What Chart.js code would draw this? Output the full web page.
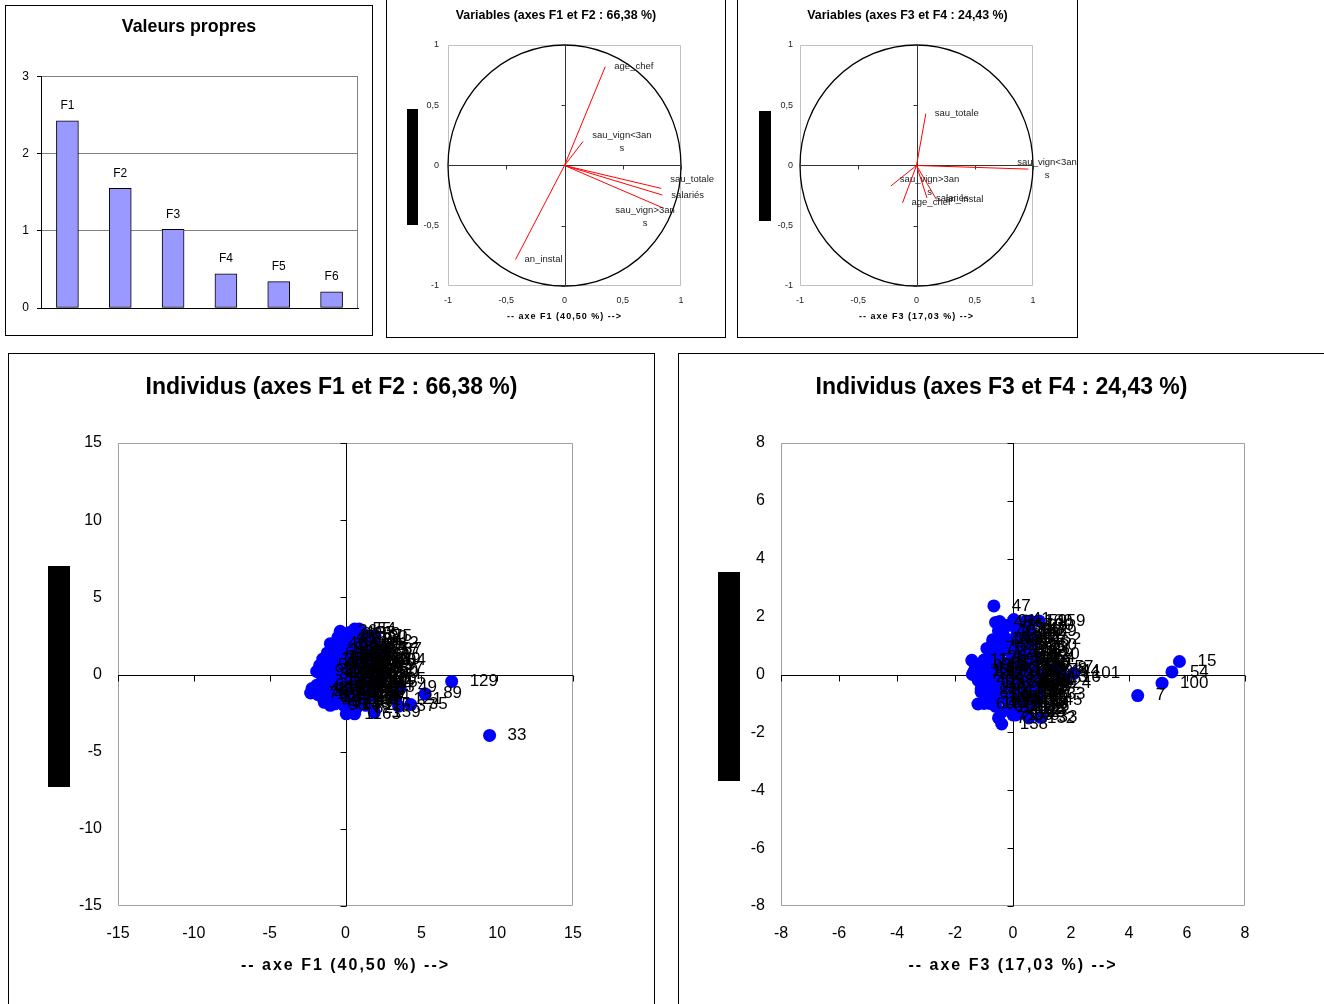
<!DOCTYPE html>
<html>
<head>
<meta charset="utf-8">
<title>ACP</title>
<script src="https://cdn.jsdelivr.net/npm/chart.js@4.4.0/dist/chart.umd.min.js"></script>
<style>
  html, body { margin: 0; padding: 0; background: #fff; overflow: hidden; }
  body { width: 1324px; height: 1004px; position: relative; }
  .panel { position: absolute; border: 1px solid #000; background: #fff; }
  .panel canvas { display: block; }
</style>
</head>
<body>
<div class="panel" style="left:5px;top:5px;width:366px;height:329px;"><canvas id="eigen" width="366" height="329"></canvas></div>
<div class="panel" style="left:386px;top:-1px;width:338px;height:337px;"><canvas id="var12" width="338" height="337"></canvas></div>
<div class="panel" style="left:737px;top:-1px;width:339px;height:337px;"><canvas id="var34" width="339" height="337"></canvas></div>
<div class="panel" style="left:8px;top:353px;width:645px;height:650px;"><canvas id="ind12" width="645" height="650"></canvas></div>
<div class="panel" style="left:678px;top:353px;width:645px;height:650px;"><canvas id="ind34" width="645" height="650"></canvas></div>
<script>
const FONT = "'Liberation Sans', Arial, sans-serif";
Chart.defaults.font.family = FONT;
Chart.defaults.color = '#000';

// valeurs propres
const axesLabels = ['F1', 'F2', 'F3', 'F4', 'F5', 'F6'];
const eigenValues = [2.43, 1.553, 1.022, 0.444, 0.342, 0.209];

// cercle des correlations
const varNames = ['age_chef', 'sau_vign<3ans', 'sau_totale', 'salariés', 'sau_vign>3ans', 'an_instal'];
const varF1 = [0.35, 0.16, 0.83, 0.84, 0.84, -0.42];
const varF2 = [0.82, 0.20, -0.19, -0.245, -0.35, -0.78];
const varF3 = [-0.12, 0.96, 0.08, 0.09, -0.22, 0.17];
const varF4 = [-0.31, -0.03, 0.43, -0.27, -0.17, -0.28];

// individus
const ids = ['1','2','3','4','5','6','7','8','9','10','11','12','13','14','15','16','17','18','19','20',
  '21','22','23','24','25','26','27','28','29','30','31','32','33','34','35','36','37','38','39','40',
  '41','42','43','44','45','46','47','48','49','50','51','52','53','54','55','56','57','58','59','60',
  '61','62','63','64','65','66','67','68','69','70','71','72','73','74','75','76','77','78','79','80',
  '81','82','83','84','85','86','87','88','89','90','91','92','93','94','95','96','97','98','99','100',
  '101','102','103','104','105','106','107','108','109','110','111','112','113','114','115','116','117','118','119','120',
  '121','122','123','124','125','126','127','128','129','130','131','132','133','134','135','136','137','138','139','140',
  '141','142','143','144','145','146','147','148','149','150','151','152','153','154','155','156','157','158','159','160',
  '161','162','163'];
const indF1 = [0.05, -1.2, 0.4, -0.6, 0.9, -1.9, 1.2, 1.05, 0.2, -0.9,
  0.6, -1.5, -0.5, 0.75, 1.0, 0.9, -0.3, 1.75, -1.1, 0.5,
  -0.7, 1.3, -2.0, 0.3, 1.5, -0.4, 0.65, -1.3, 2.2, 0.0,
  -0.8, 1.1, 9.5, -1.6, 4.3, -0.35, 3.5, -0.2, 0.8, -1.0,
  0.3, 1.6, -2.2, 0.7, -0.5, 1.35, 0.2, -1.4, 3.6, 0.1,
  1.9, -0.6, 0.95, 0.9, 0.6, -1.7, 2.4, 0.4, 1.2, 2.35,
  -0.9, 0.55, -0.1, 1.45, -1.2, 0.1, 1.7, -0.3, 0.65, -2.3,
  1.2, -0.7, 0.4, 2.0, 1.95, -1.1, 0.2, 1.05, -0.4, 2.4,
  -1.6, 0.7, -0.2, 1.3, -0.8, 0.4, 2.6, -1.3, 5.25, 0.5,
  -0.1, 0.9, -1.9, 1.8, 0.0, -0.6, 1.45, -1.0, 0.55, 0.65,
  1.45, -0.2, 0.3, -1.5, 2.25, 0.4, 0.95, -0.9, 0.1, 1.1,
  -0.5, 1.85, 0.7, -0.1, 1.35, -1.7, 0.3, 0.8, -0.3, 1.6,
  3.3, 0.5, -1.2, 1.2, 0.4, -0.8, 2.1, 0.0, 7.0, 1.05,
  -0.4, 0.65, 1.5, -1.4, 0.2, 0.9, -0.7, 0.7, 1.9, 0.4,
  -0.2, 1.3, -1.0, 0.55, 1.7, -0.6, 0.7, -0.1, 1.05, 0.3,
  -1.8, 1.35, 0.1, 2.25, -0.5, 0.8, 0.2, -1.1, 1.9, 0.4,
  0.95, -0.3, 0.6];
const indF2 = [-2.55, 0.4, 1.1, -0.8, 0.3, -0.7, 0.9, 1.3, -0.3, 1.6,
  -1.1, -1.5, 0.0, 2.1, 0.6, -0.9, 0.7, 0.8, -0.2, -1.8,
  1.0, -0.6, -1.1, 0.2, 1.9, -1.6, 0.0, 0.9, 0.6, 1.5,
  -0.5, -1.6, -3.95, 0.0, -1.95, 2.8, -2.05, -0.9, 1.7, 2.0,
  1.9, -0.2, -0.9, -0.4, 2.4, 0.4, 1.2, -1.8, -0.85, 0.8,
  1.2, 0.3, -1.2, 2.95, 2.95, 0.6, 1.55, -0.7, 2.6, 0.25,
  -1.0, 0.5, -2.0, -1.0, 1.4, -1.2, 1.6, 2.0, 1.0, -1.2,
  -0.3, -1.9, 0.4, -0.7, 2.5, 0.6, -0.1, 0.2, 1.2, 0.1,
  -1.4, -2.2, 0.5, 2.2, -1.4, 1.6, 1.6, -0.6, -1.25, -0.2,
  2.6, 1.2, 0.2, -1.4, 0.0, 1.7, 0.6, -2.0, -0.8, -0.5,
  -0.3, -0.5, 2.3, 1.0, -0.3, 1.3, -0.1, 0.1, -1.6, 1.7,
  -1.1, 2.0, 0.7, 1.0, -2.0, -1.0, -0.6, 0.4, -0.2, 0.9,
  -1.6, 1.9, -0.3, 0.0, -1.4, 0.8, 0.4, -0.8, -0.45, 2.4,
  -0.6, -1.7, -0.8, 0.3, 0.6, -0.6, -0.3, -1.5, 1.0, -1.0,
  1.8, 1.0, 1.1, 0.2, -0.5, -1.2, 1.5, -1.9, -0.4, 0.9,
  -1.3, 1.3, 0.3, 0.9, 0.5, -1.3, 2.7, -0.8, -2.45, 0.8,
  0.8, 1.4, -2.55];
const indF3 = [0.1, -0.5, 0.2, -0.9, 0.35, -0.7, 4.3, 1.6, 0.1, -0.4,
  0.3, -1.0, -1.35, 0.25, 5.74, 1.75, -0.2, 0.55, -0.6, 0.4,
  -0.3, 0.7, -1.1, 0.0, 0.3, -0.1, 0.45, -0.8, 0.8, 0.1,
  -0.7, 0.35, 0.95, -0.9, 0.5, 0.1, 0.25, 0.15, 0.4, -0.5,
  0.03, 0.6, -1.2, 0.25, -0.6, 0.65, -0.66, -0.8, 0.66, -0.1,
  0.45, -0.4, 0.3, 5.48, 0.1, -1.0, 1.5, 0.35, 0.6, -1.21,
  -0.6, 0.2, 0.1, 0.6, -0.7, -0.2, 0.4, -0.3, 0.3, -1.4,
  0.85, -0.5, 0.1, 0.55, 0.2, -0.9, 0.35, 1.3, -0.2, 0.7,
  -1.1, 0.45, -0.1, 0.35, -0.4, 0.1, 0.35, -0.8, 0.65, 0.15,
  -0.46, 0.6, -1.3, 0.65, -0.3, -0.3, 0.8, -0.39, 0.1, 5.14,
  2.1, 0.25, -0.7, -0.55, 0.3, 0.35, 0.5, -1.0, -0.1, 0.65,
  -0.6, 0.25, 1.0, 0.0, 0.3, -1.1, -1.42, 0.1, -0.2, 0.7,
  0.45, 0.2, -0.9, 1.1, 0.2, -0.6, 0.4, 0.1, 0.35, 0.5,
  -0.5, 0.55, 0.9, -1.2, 0.25, 0.4, -0.8, -0.39, 0.6, 0.3,
  0.1, 0.3, -0.7, 1.4, 0.8, -0.8, 0.25, 0.0, 0.6, 0.4,
  -1.0, 0.75, 0.1, 0.55, -0.5, 0.35, -0.2, -0.7, 0.9, 0.45,
  0.4, -0.1, 0.2];
const indF4 = [-1.1, 0.3, -0.2, 0.2, 0.1, -0.4, -0.73, 0.2, 0.5, 0.8,
  -0.6, -0.3, 0.1, 0.7, 0.45, -0.1, -0.5, 0.4, -0.7, -0.9,
  1.0, -0.4, 0.0, 0.2, 1.4, -1.2, 0.0, 0.6, 0.1, 1.2,
  0.4, -1.3, -1.48, -0.1, -0.2, 1.6, -0.8, -0.3, 1.5, 1.5,
  1.9, -0.5, -0.2, 0.6, 1.8, 0.3, 2.37, -1.0, -0.99, 0.8,
  0.9, -0.1, -0.7, 0.09, 0.9, 0.5, 0.25, -0.4, 1.85, -1.02,
  -1.1, 0.3, -1.4, -0.8, 1.1, -0.9, 0.5, 1.3, -0.1, 0.0,
  -0.2, -1.5, -0.6, -0.6, 0.5, 0.9, 0.2, 0.15, 0.4, 0.0,
  -0.6, -1.2, -0.3, 1.2, -0.6, 1.0, -0.3, -0.5, -0.4, 0.0,
  1.83, 0.6, 0.3, -1.0, -0.8, 1.61, 0.5, -1.3, -1.0, -0.3,
  0.04, 0.1, 1.2, 1.2, -0.4, 1.1, -0.5, -0.3, -1.1, 1.0,
  -0.9, 0.8, -0.1, 0.6, -1.2, -0.5, 0.49, -0.5, 0.1, 0.7,
  -0.6, 1.4, 0.0, -0.3, -1.3, 0.7, 0.2, -0.7, 0.3, 1.7,
  -0.2, -1.5, -0.7, 0.2, 0.9, -0.2, 0.1, -1.71, 1.5, -0.8,
  1.3, 1.5, 0.2, 0.1, -0.9, -0.8, 1.55, -1.4, -0.3, 0.4,
  -1.0, 1.2, -0.1, 0.6, 0.5, -1.1, 1.7, -0.9, 1.85, 1.85,
  0.8, 1.0, -1.3];

const comma = v => String(v).replace('.', ',');
const fixW = w => s => { s.width = w; };
const fixH = h => s => { s.height = h; };

// empty axis on the right, keeps the plot area off the right edge
// while the title stays centred on the whole panel
const spacer = w => ({
  axis: 'y', type: 'linear', position: 'right', display: true,
  grid: { display: false, drawTicks: false }, border: { display: false },
  ticks: { display: false }, afterFit: fixW(w)
});

// frame, unit circle, axes through the origin, labels, x title
function decor(o) {
  return {
    id: 'decor',
    beforeDatasetsDraw(chart) {
      const { ctx, chartArea: a, scales: { x, y } } = chart;
      ctx.save();
      if (o.frame) {
        ctx.strokeStyle = o.frame;
        ctx.lineWidth = 1;
        ctx.beginPath();
        if (o.rightOnly) {
          ctx.moveTo(a.right - 0.5, a.top);
          ctx.lineTo(a.right - 0.5, a.bottom);
        } else {
          ctx.rect(a.left + 0.5, a.top + 0.5, a.width - 1, a.height - 1);
        }
        ctx.stroke();
      }
      if (o.circle) {
        const cx = x.getPixelForValue(0), cy = y.getPixelForValue(0);
        ctx.strokeStyle = '#000';
        ctx.lineWidth = 1.3;
        ctx.beginPath();
        ctx.ellipse(cx, cy, x.getPixelForValue(1) - cx, cy - y.getPixelForValue(1), 0, 0, Math.PI * 2);
        ctx.stroke();
      }
      if (o.cross) {
        const x0 = Math.round(x.getPixelForValue(0)) + 0.5;
        const y0 = Math.round(y.getPixelForValue(0)) + 0.5;
        const tl = o.cross.tick;
        ctx.strokeStyle = o.cross.color;
        ctx.lineWidth = 1;
        ctx.beginPath();
        ctx.moveTo(x0, a.top); ctx.lineTo(x0, a.bottom);
        ctx.moveTo(a.left, y0); ctx.lineTo(a.right, y0);
        y.ticks.forEach(t => {
          const py = Math.round(y.getPixelForValue(t.value)) + 0.5;
          ctx.moveTo(x0 - tl, py); ctx.lineTo(x0, py);
        });
        x.ticks.forEach(t => {
          const px = Math.round(x.getPixelForValue(t.value)) + 0.5;
          ctx.moveTo(px, y0); ctx.lineTo(px, y0 + tl);
        });
        ctx.stroke();
      }
      ctx.restore();
    },
    afterDatasetsDraw(chart) {
      const { ctx } = chart;
      ctx.save();
      ctx.font = o.labelFont;
      ctx.fillStyle = o.labelColor || '#000';
      ctx.textBaseline = 'middle';
      ctx.textAlign = 'center';
      chart.data.datasets.forEach((ds, di) => {
        if (!ds.names) return;
        chart.getDatasetMeta(di).data.forEach((el, j) => {
          const name = ds.names[j];
          if (name == null) return;
          if (o.barLabels) {
            ctx.fillText(name, el.x, el.y - o.barGap);
            return;
          }
          const lines = o.wrap && name.length > o.wrap ? [name.slice(0, o.wrap), name.slice(o.wrap)] : [name];
          const sh = (o.shift && o.shift[name]) || [0, 0];
          const w = Math.max(...lines.map(l => ctx.measureText(l).width));
          const left = el.x + o.labelDx + sh[0];
          const top = el.y + sh[1] - (lines.length - 1) * o.lineGap / 2;
          lines.forEach((l, k) => ctx.fillText(l, left + w / 2, top + k * o.lineGap));
        });
      });
      ctx.restore();
    },
    afterDraw(chart) {
      const { ctx, chartArea: a } = chart;
      ctx.save();
      if (o.bar) {
        ctx.fillStyle = '#000';
        ctx.fillRect(o.bar[0], o.bar[1], o.bar[2], o.bar[3]);
      }
      if (o.xTitle) {
        ctx.font = o.xTitle.font;
        ctx.fillStyle = '#000';
        ctx.textAlign = 'center';
        ctx.textBaseline = 'middle';
        if ('letterSpacing' in ctx) ctx.letterSpacing = o.xTitle.spacing;
        ctx.fillText(o.xTitle.text, (a.left + a.right) / 2, o.xTitle.y);
      }
      ctx.restore();
    }
  };
}

// Valeurs propres
new Chart(document.getElementById('eigen'), {
  type: 'bar',
  data: {
    labels: axesLabels,
    datasets: [{
      data: eigenValues, names: axesLabels,
      backgroundColor: '#9999ff', borderColor: '#000', borderWidth: 1,
      borderSkipped: false, barThickness: 22
    }]
  },
  options: {
    responsive: false, animation: false,
    layout: { padding: 0 },
    plugins: {
      legend: { display: false }, tooltip: { enabled: false },
      title: { display: true, text: 'Valeurs propres', color: '#000',
        font: { size: 17.8, weight: 'bold' }, padding: { top: 10.3, bottom: 39.3 } }
    },
    scales: {
      x: { grid: { display: false }, border: { display: true, color: '#000' },
        ticks: { display: false }, afterFit: fixH(27) },
      y: { min: 0, max: 3,
        ticks: { stepSize: 1, padding: 8, font: { size: 12 }, color: '#000' },
        grid: { color: '#808080', tickColor: '#000', tickLength: 4 },
        border: { color: '#000' }, afterFit: fixW(35) },
      yRight: spacer(14)
    }
  },
  plugins: [decor({ frame: '#808080', rightOnly: true, labelFont: '12px ' + FONT, barLabels: true, barGap: 15 })]
});

// Variables
function vectorSets(vx, vy) {
  return varNames.map((n, i) => ({
    data: [{ x: 0, y: 0 }, { x: vx[i], y: vy[i] }],
    names: [null, n],
    showLine: true, borderColor: '#ff0000', borderWidth: 1, pointRadius: 0
  }));
}

function circleChart(id, vx, vy, title, xTitle, yWidth, side, yPad, shift, bar) {
  return new Chart(document.getElementById(id), {
    type: 'scatter',
    data: { datasets: vectorSets(vx, vy) },
    options: {
      responsive: false, animation: false,
      layout: { padding: 0 },
      plugins: {
        legend: { display: false }, tooltip: { enabled: false },
        title: { display: true, text: title, color: '#000',
          font: { size: 12.4, weight: 'bold' }, padding: { top: 8.6, bottom: 21.5 } }
      },
      scales: {
        x: { type: 'linear', min: -1, max: 1,
          grid: { display: false, drawTicks: false }, border: { display: false },
          ticks: { stepSize: 0.5, callback: comma, padding: 9, font: { size: 9 }, color: '#222', maxRotation: 0, autoSkip: false },
          afterFit: fixH(51) },
        y: { type: 'linear', min: -1, max: 1,
          grid: { display: false, drawTicks: false }, border: { display: false },
          ticks: { stepSize: 0.5, callback: comma, padding: yPad, font: { size: 9 }, color: '#222', autoSkip: false },
          afterFit: fixW(yWidth) },
        yRight: spacer(side)
      }
    },
    plugins: [decor({
      frame: '#c0c0c0', circle: true, cross: { color: '#333', tick: 4 },
      labelFont: '9.5px ' + FONT, labelColor: '#222', labelDx: 9, wrap: 12, lineGap: 13,
      shift: shift, bar: bar,
      xTitle: { text: xTitle, y: 317, font: 'bold 9px ' + FONT, spacing: '1px' }
    })]
  });
}

circleChart('var12', varF1, varF2, 'Variables (axes F1 et F2 : 66,38 %)', '-- axe F1 (40,50 %) -->',
  61, 44, 9, { 'sau_totale': [0, -9], 'sau_vign>3ans': [-56, 9.5] }, [20, 109, 11, 116]);
circleChart('var34', varF3, varF4, 'Variables (axes F3 et F4 : 24,43 %)', '-- axe F3 (17,03 %) -->',
  62, 44, 7, { 'sau_vign<3ans': [-20, 0] }, [21, 111, 12, 110]);

// Individus
function indivChart(id, xs, ys, lim, step, title, xTitle, yWidth, side, bar) {
  return new Chart(document.getElementById(id), {
    type: 'scatter',
    data: {
      datasets: [{
        data: ids.map((_, i) => ({ x: xs[i], y: ys[i] })),
        names: ids,
        backgroundColor: '#0000ff', pointRadius: 6.5, pointHoverRadius: 6.5, pointBorderWidth: 0
      }]
    },
    options: {
      responsive: false, animation: false,
      layout: { padding: 0 },
      plugins: {
        legend: { display: false }, tooltip: { enabled: false },
        title: { display: true, text: title, color: '#000',
          font: { size: 23, weight: 'bold' }, padding: { top: 20.2, bottom: 41.2 } }
      },
      scales: {
        x: { type: 'linear', min: -lim, max: lim,
          grid: { display: false, drawTicks: false }, border: { display: false },
          ticks: { stepSize: step, callback: comma, padding: 18, font: { size: 16 }, color: '#000', maxRotation: 0, autoSkip: false },
          afterFit: fixH(98) },
        y: { type: 'linear', min: -lim, max: lim,
          grid: { display: false, drawTicks: false }, border: { display: false },
          ticks: { stepSize: step, callback: comma, padding: 16, font: { size: 16 }, color: '#000', autoSkip: false },
          afterFit: fixW(yWidth) },
        yRight: spacer(side)
      }
    },
    plugins: [decor({
      frame: '#a0a0a0', cross: { color: '#000', tick: 6 },
      labelFont: '17px ' + FONT, labelColor: '#000', labelDx: 18, lineGap: 18,
      bar: bar,
      xTitle: { text: xTitle, y: 612, font: 'bold 16px ' + FONT, spacing: '2px' }
    })]
  });
}

indivChart('ind12', indF1, indF2, 15, 5, 'Individus (axes F1 et F2 : 66,38 %)', '-- axe F1 (40,50 %) -->',
  109, 81, [39, 212, 22, 221]);
indivChart('ind34', indF3, indF4, 8, 2, 'Individus (axes F3 et F4 : 24,43 %)', '-- axe F3 (17,03 %) -->',
  102, 79, [39, 218, 22, 209]);
</script>
</body>
</html>
